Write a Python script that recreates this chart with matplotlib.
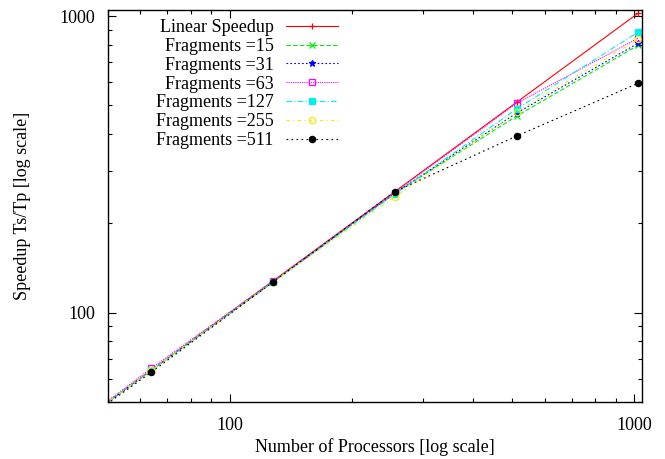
import matplotlib
matplotlib.use('Agg')
import matplotlib.pyplot as plt
from matplotlib.ticker import LogLocator, NullFormatter, FixedLocator, FixedFormatter

plt.rcParams['font.family'] = ['Liberation Serif', 'DejaVu Serif']

procs = [32, 64, 128, 256, 512, 1024]
linear = [32, 64, 128, 256, 512, 1024]
frag15 = [32, 64, 127, 253, 460, 798]
frag31 = [32, 64, 127, 253, 471, 811]
frag63 = [32, 65, 128, 254, 508, 843]
frag127 = [32, 64, 127, 251, 486, 884]
frag255 = [32, 64, 127, 246, 475, 835]
frag511 = [32, 63, 127, 256, 394, 594]

labels = ['Linear Speedup', 'Fragments =15', 'Fragments =31', 'Fragments =63',
          'Fragments =127', 'Fragments =255', 'Fragments =511']
series = [linear, frag15, frag31, frag63, frag127, frag255, frag511]
colors = ['#ff0000', '#00ee00', '#0000ff', '#ff00ff', '#00eeee', '#eeee00', '#000000']
markers = ['+', 'x', '*', 's', 's', 'o', 'o']
fills = ['full', 'full', 'full', 'none', 'full', 'none', 'full']
dashes = [None, (4, 2), (1.5, 2), (1, 1), (5, 2, 1, 2), (3, 3, 1, 3), (1.5, 3)]

fig = plt.figure(figsize=(6.65, 4.59), dpi=100)
ax = fig.add_axes([0.1624, 0.1242, 0.8030, 0.8538])

for s, lab, c, m, f, d in zip(series, labels, colors, markers, fills, dashes):
    line, = ax.plot(procs, s, color=c, marker=m, fillstyle=f, markersize=4.5,
                    markeredgewidth=0.9, linewidth=0.8, label=lab)
    if d is not None:
        line.set_dashes(d)

ax.set_xscale('log')
ax.set_yscale('log')
ax.set_xlim(50, 1045)
ax.set_ylim(50, 1047)

ax.xaxis.set_major_locator(FixedLocator([100, 1000]))
ax.xaxis.set_major_formatter(FixedFormatter(['100', '1000']))
ax.yaxis.set_major_locator(FixedLocator([100, 1000]))
ax.yaxis.set_major_formatter(FixedFormatter(['100', '1000']))
ax.xaxis.set_minor_locator(LogLocator(base=10, subs=range(2, 10)))
ax.yaxis.set_minor_locator(LogLocator(base=10, subs=range(2, 10)))
ax.xaxis.set_minor_formatter(NullFormatter())
ax.yaxis.set_minor_formatter(NullFormatter())
ax.tick_params(which='both', direction='in', top=True, right=True, labelsize=13, width=0.8)
ax.tick_params(which='major', length=6)
ax.tick_params(axis='x', which='major', pad=11)
ax.tick_params(axis='y', which='major', pad=9)
ax.tick_params(which='minor', length=3)
for sp in ax.spines.values():
    sp.set_linewidth(1.0)

ax.set_xlabel('Number of Processors [log scale]', fontsize=13, labelpad=3)
ax.set_ylabel('Speedup Ts/Tp [log scale]', fontsize=13, labelpad=21)

ax.legend(loc='upper left', bbox_to_anchor=(0.073, 1.0), frameon=False, markerfirst=False,
          fontsize=13, handlelength=2.9, labelspacing=0.1, borderaxespad=0.1,
          handletextpad=0.66, numpoints=1)

fig.savefig('out.png', dpi=100)
